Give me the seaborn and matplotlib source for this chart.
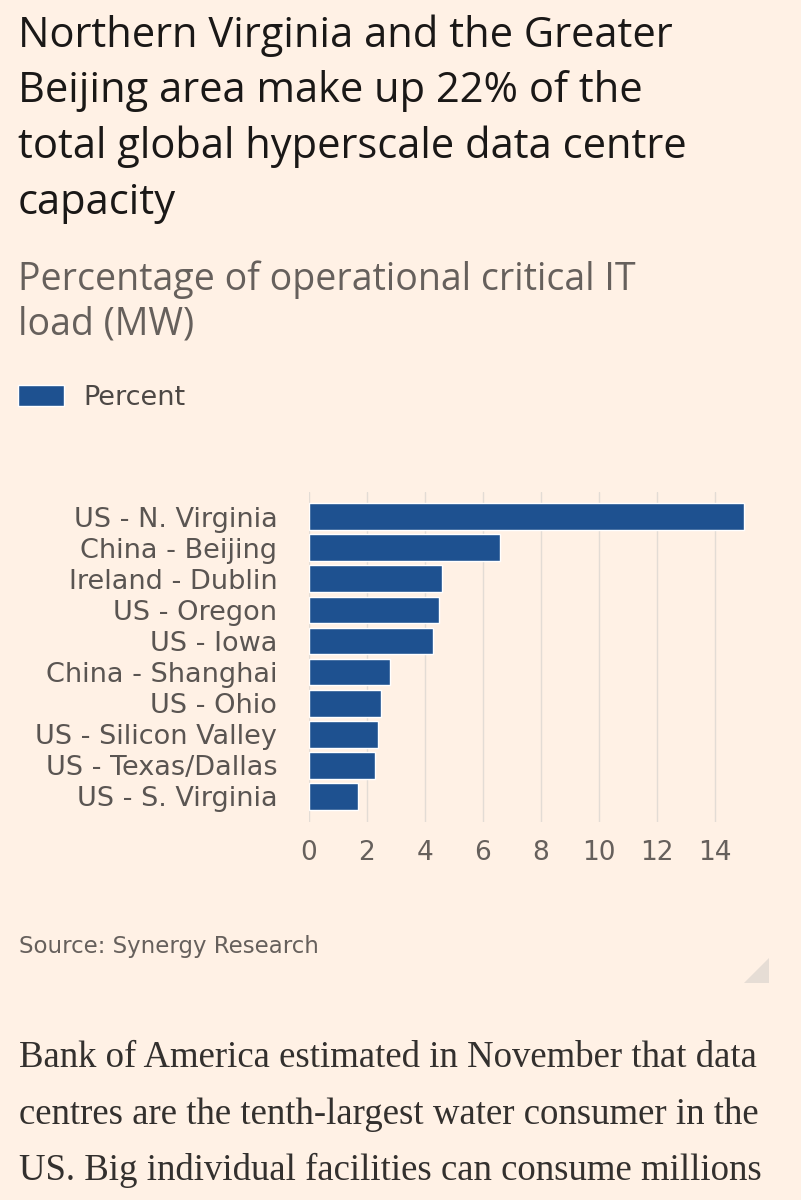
import matplotlib.pyplot as plt
import seaborn as sns
import pandas as pd
from matplotlib.patches import Polygon

regions = [
    "US - N. Virginia",
    "China - Beijing",
    "Ireland - Dublin",
    "US - Oregon",
    "US - Iowa",
    "China - Shanghai",
    "US - Ohio",
    "US - Silicon Valley",
    "US - Texas/Dallas",
    "US - S. Virginia",
]
percent = [15.0, 6.6, 4.6, 4.5, 4.3, 2.8, 2.5, 2.4, 2.3, 1.7]
x_ticks = [0, 2, 4, 6, 8, 10, 12, 14]

title_lines = [
    "Northern Virginia and the Greater",
    "Beijing area make up 22% of the",
    "total global hyperscale data centre",
    "capacity",
]
subtitle_lines = ["Percentage of operational critical IT", "load (MW)"]
source = "Source: Synergy Research"
body_lines = [
    "Bank of America estimated in November that data",
    "centres are the tenth-largest water consumer in the",
    "US. Big individual facilities can consume millions",
]

BG = "#FFF1E5"
BAR = "#1E5190"
W, H = 801, 1200
WIDE = ["DejaVu Sans"]


def fy(px):
    return 1 - px / H


def main():
    sns.set_theme(style="white")
    plt.rcParams["font.family"] = ["Open Sans", "DejaVu Sans"]

    df = pd.DataFrame({"region": regions, "percent": percent})

    fig = plt.figure(figsize=(W / 100, H / 100), dpi=100, facecolor=BG)
    ax = fig.add_axes([308.5 / W, 1 - 822 / H, 441.4 / W, 330 / H])
    ax.set_facecolor(BG)

    sns.barplot(data=df, x="percent", y="region", color=BAR, width=0.86,
                saturation=1, label="Percent", ax=ax, zorder=3)

    ax.set_xlim(0, 15.2)
    ax.set_ylim(9.82, -0.79)
    ax.set_xticks(x_ticks)
    ax.set_xlabel("")
    ax.set_ylabel("")
    ax.grid(axis="x", color="#e3dcd5", lw=1, zorder=0)
    ax.grid(axis="y", visible=False)
    for s in ax.spines.values():
        s.set_visible(False)
    ax.tick_params(axis="x", length=0, pad=13, labelsize=19, labelcolor="#66605c")
    ax.tick_params(axis="y", length=14, width=1, color="#c9c0b8", pad=8.5,
                   labelsize=19.5, labelcolor="#5a5552")
    for lab in ax.get_xticklabels() + ax.get_yticklabels():
        lab.set_family(WIDE)
    if ax.get_legend() is not None:
        ax.get_legend().remove()

    for i, line in enumerate(title_lines):
        fig.text(18 / W, fy(47 + i * 55.5), line, fontsize=30, color="#1a1817",
                 va="baseline", ha="left")
    for i, line in enumerate(subtitle_lines):
        fig.text(18 / W, fy(290 + i * 45), line, fontsize=27, color="#66605c",
                 va="baseline", ha="left")

    handles, labels = ax.get_legend_handles_labels()
    fig.legend(handles, labels, loc="center left", bbox_to_anchor=(18 / W, fy(398)),
               frameon=False, prop={"family": WIDE, "size": 19.5}, handlelength=1.7,
               handleheight=0.78, handletextpad=0.7, borderpad=0, borderaxespad=0,
               labelcolor="#4d4845")

    fig.text(19 / W, fy(953), source, fontsize=16.5, color="#66605c", family=WIDE,
             va="baseline", ha="left")
    fig.patches.append(Polygon([(769 / W, fy(958)), (769 / W, fy(983)), (744 / W, fy(983))],
                               closed=True, transform=fig.transFigure,
                               facecolor="#e6ddd5", edgecolor="none"))

    for i, line in enumerate(body_lines):
        fig.text(19 / W, fy(1067 + i * 56.5), line, fontsize=26.5, color="#33302e",
                 family=["Liberation Serif", "DejaVu Serif"], va="baseline", ha="left")

    fig.savefig("out.png", dpi=100, facecolor=BG)
    plt.close(fig)


if __name__ == "__main__":
    main()
